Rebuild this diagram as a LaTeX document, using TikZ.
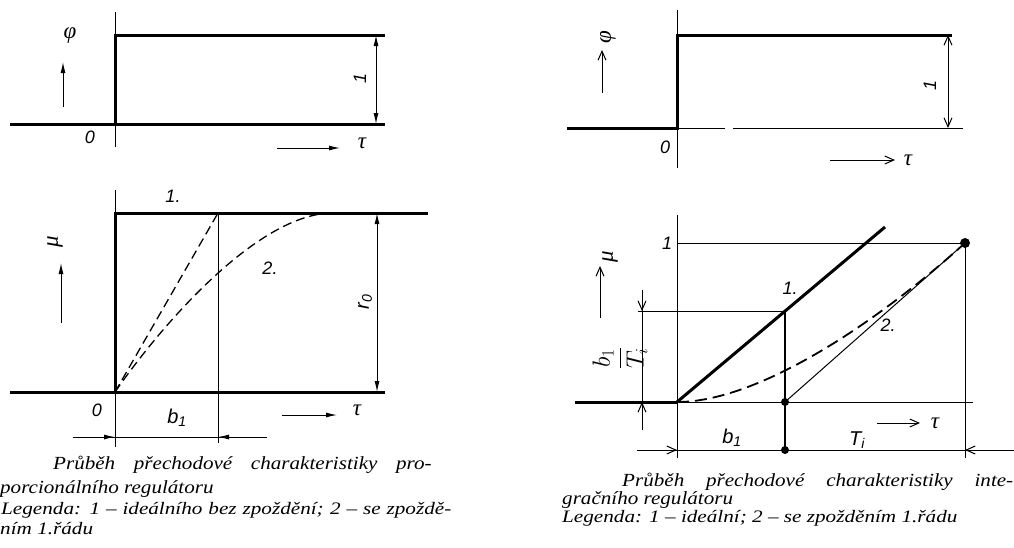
\documentclass[tikz,border=0pt]{standalone}
\usepackage{fontspec}
\usepackage{graphicx}
\setmainfont{Liberation Serif}
\newfontfamily\labfont{Liberation Sans}
\usetikzlibrary{arrows.meta}
\newcommand{\capline}[1]{\scalebox{1.14}[1]{#1}}
\newcommand{\legline}[1]{\scalebox{1.21}[1]{#1}}
\begin{document}
\begin{tikzpicture}[x=1pt,y=-1pt,line join=miter,
  thinln/.style={line width=1pt},
  thickln/.style={line width=3pt},
  dashln/.style={line width=1.3pt,dash pattern=on 9pt off 5pt},
  fa/.style={-{Latex[length=11pt,width=5pt]}},
  fab/.style={{Latex[length=11pt,width=5pt]}-{Latex[length=11pt,width=5pt]}},
  oa/.style={-{Straight Barb[length=9pt,width=8pt]}},
  oab/.style={{Straight Barb[length=9pt,width=8pt]}-{Straight Barb[length=9pt,width=8pt]}},
  lbl/.style={font=\labfont\itshape\fontsize{18}{18}\selectfont,inner sep=0pt},
  biglbl/.style={font=\labfont\itshape\fontsize{20}{20}\selectfont,inner sep=0pt},
  gr/.style={font=\itshape\fontsize{23}{23}\selectfont,inner sep=0pt},
  captxt/.style={font=\itshape\fontsize{18.5}{18.5}\selectfont,inner sep=0pt,anchor=west},
  legtxt/.style={font=\itshape\fontsize{17.5}{17.5}\selectfont,inner sep=0pt,anchor=west},
  dotfill/.style={fill=black}
]
\useasboundingbox (0,0) rectangle (1014,547);

% ---------- top left ----------
\coordinate (a1) at (115,12);   \coordinate (a2) at (115,147);
\coordinate (o1) at (115,124);  \coordinate (t1) at (115,35);
\coordinate (l1) at (10,124);   \coordinate (r1) at (385,35);
\coordinate (rb1) at (385,124);
\coordinate (d1a) at (376,35);  \coordinate (d1b) at (376,124);
\coordinate (u1a) at (63,107);  \coordinate (u1b) at (63,62);
\coordinate (ta1) at (277,148); \coordinate (tb1) at (340,148);
\draw[thinln] (a1) -- (a2);
\draw[thickln] (l1) -- (o1) -- (t1) -- (r1);
\draw[thickln] (o1) -- (rb1);
\draw[thinln,fab] (d1a) -- (d1b);
\draw[thinln,fa] (u1a) -- (u1b);
\draw[thinln,fa] (ta1) -- (tb1);
\node[gr] (phi1) at (70,36) {φ};
\node[lbl] (zero1) at (90,137) {0};
\node[gr] (tau1) at (362,143) {τ};
\node[lbl,rotate=90] (one1) at (360,78) {1};

% ---------- bottom left ----------
\coordinate (a3) at (115,190);  \coordinate (a4) at (115,447);
\coordinate (o2) at (115,392);  \coordinate (t2) at (115,213);
\coordinate (l2) at (10,392);   \coordinate (r2) at (428,213);
\coordinate (rb2) at (385,392);
\coordinate (v2a) at (218,213); \coordinate (v2b) at (218,443);
\coordinate (c2e) at (333,213);
\coordinate (d2a) at (377,213); \coordinate (d2b) at (377,392);
\coordinate (u2a) at (61,323);  \coordinate (u2b) at (61,263);
\coordinate (ta2) at (282,415); \coordinate (tb2) at (337,415);
\coordinate (bl) at (73,437);   \coordinate (br) at (267,437);
\coordinate (bo) at (115,437);  \coordinate (bv) at (218,437);
\draw[thinln] (a3) -- (a4);
\draw[thickln] (l2) -- (o2) -- (t2) -- (r2);
\draw[thickln] (o2) -- (rb2);
\draw[thinln] (v2a) -- (v2b);
\draw[dashln] (o2) -- (v2a);
\draw[dashln] (o2) .. controls (165,320) and (260,213) .. (c2e);
\draw[thinln,fab] (d2a) -- (d2b);
\draw[thinln,fa] (u2a) -- (u2b);
\draw[thinln,fa] (ta2) -- (tb2);
\draw[thinln] (bl) -- (br);
\draw[thinln,fa] (bl) -- (bo);
\draw[thinln,fa] (br) -- (bv);
\node[lbl] (n1a) at (173,196) {1.};
\node[lbl] (n2a) at (270,268) {2.};
\node[gr,rotate=90] (mu1) at (55,242) {μ};
\node[lbl] (zero2) at (97,410) {0};
\node[biglbl] (b1a) at (177,418) {b\textsubscript{1}};
\node[gr] (tau2) at (357,410) {τ};
\node[biglbl,rotate=90] (r0) at (365,302) {r\textsubscript{0}};

% captions left
\node[captxt] (c1) at (53,465) {\capline{\makebox[332pt][s]{Průběh přechodové charakteristiky pro-}}};
\node[captxt] (c2) at (0,489) {\capline{porcionálního regulátoru}};
\node[legtxt] (c3) at (1,510) {\legline{\makebox[372pt][s]{Legenda: 1 – ideálního bez zpoždění; 2 – se zpoždě-}}};
\node[legtxt] (c4) at (0,529) {\legline{ním 1.řádu}};

% ---------- top right ----------
\coordinate (a5) at (677,10);   \coordinate (a6) at (677,168);
\coordinate (o3) at (677,128);  \coordinate (t3) at (677,35);
\coordinate (l3) at (567,128);  \coordinate (r3) at (952,35);
\coordinate (g3a) at (725,128); \coordinate (g3b) at (733,128);
\coordinate (rb3) at (963,128);
\coordinate (d3a) at (948,35);  \coordinate (d3b) at (948,128);
\coordinate (u3a) at (602,93);  \coordinate (u3b) at (602,50);
\coordinate (ta3) at (830,160); \coordinate (tb3) at (895,160);
\draw[thinln] (a5) -- (a6);
\draw[thickln] (l3) -- (o3) -- (t3) -- (r3);
\draw[thinln] (o3) -- (g3a);
\draw[thinln] (g3b) -- (rb3);
\draw[thinln,oab] (d3a) -- (d3b);
\draw[thinln,oa] (u3a) -- (u3b);
\draw[thinln,oa] (ta3) -- (tb3);
\node[gr,rotate=90] (phi2) at (608,37) {φ};
\node[lbl] (zero3) at (665,147) {0};
\node[gr] (tau3) at (908,160) {τ};
\node[lbl,rotate=90] (one3) at (930,85) {1};

% ---------- bottom right ----------
\coordinate (a7) at (677,215);  \coordinate (a8) at (677,458);
\coordinate (o4) at (677,402);  \coordinate (l4) at (575,402);
\coordinate (rb4) at (973,402);
\coordinate (h1a) at (677,243); \coordinate (h1b) at (965,243);
\coordinate (v4b) at (965,458);
\coordinate (L1e) at (885,227);
\coordinate (p1) at (785,311);  \coordinate (hb) at (638,311);
\coordinate (p2) at (785,402);  \coordinate (p3) at (785,450);
\coordinate (dva) at (642,290); \coordinate (dvb) at (642,430);
\coordinate (dvt) at (642,311); \coordinate (dvl) at (642,402);
\coordinate (bdl) at (637,450); \coordinate (bdr) at (1014,450);
\coordinate (bdo) at (677,450); \coordinate (bdv) at (965,450);
\coordinate (u4a) at (600,318); \coordinate (u4b) at (600,266);
\coordinate (ta4) at (877,423); \coordinate (tb4) at (920,423);
\draw[thinln] (a7) -- (a8);
\draw[thickln] (l4) -- (o4);
\draw[thinln] (o4) -- (rb4);
\draw[thinln] (h1a) -- (h1b) -- (v4b);
\draw[thickln] (o4) -- (L1e);
\draw[thinln] (hb) -- (p1);
\draw[line width=1.4pt] (p1) -- (p3);
\draw[thinln] (p2) -- (h1b);
\draw[line width=1.8pt,dash pattern=on 12pt off 6pt] (o4) .. controls (760,402) and (880,320) .. (h1b);
\draw[thinln] (dva) -- (dvb);
\draw[thinln,oa] (dva) -- (dvt);
\draw[thinln,oa] (dvb) -- (dvl);
\draw[thinln] (bdl) -- (bdr);
\draw[thinln,oa] (bdl) -- (bdo);
\draw[thinln,oa] (bdr) -- (bdv);
\draw[thinln,oa] (u4a) -- (u4b);
\draw[thinln,oa] (ta4) -- (tb4);
\fill[dotfill] (h1b) circle (5pt);
\fill[dotfill] (p2) circle (4pt);
\fill[dotfill] (p3) circle (4pt);
\node[lbl] (one4) at (667,243) {1};
\node[gr,rotate=90] (mu2) at (610,257) {μ};
\node[lbl] (n1b) at (790,288) {1.};
\node[lbl] (n2b) at (888,325) {2.};
\node[inner sep=0pt,rotate=90,font=\fontsize{24}{24}\selectfont] (frac) at (620,358) {$\displaystyle\frac{b_1}{T_i}$};
\node[biglbl] (b1b) at (732,438) {b\textsubscript{1}};
\node[biglbl] (Ti) at (857,440) {T\textsubscript{\itshape i}};
\node[gr] (tau4) at (935,423) {τ};

% captions right
\node[captxt] (c5) at (622,482) {\capline{\makebox[343pt][s]{Průběh přechodové charakteristiky inte-}}};
\node[captxt] (c6) at (562,500) {\capline{gračního regulátoru}};
\node[legtxt] (c7) at (562,518) {\legline{Legenda: 1 – ideální; 2 – se zpožděním 1.řádu}};
\end{tikzpicture}
\end{document}
